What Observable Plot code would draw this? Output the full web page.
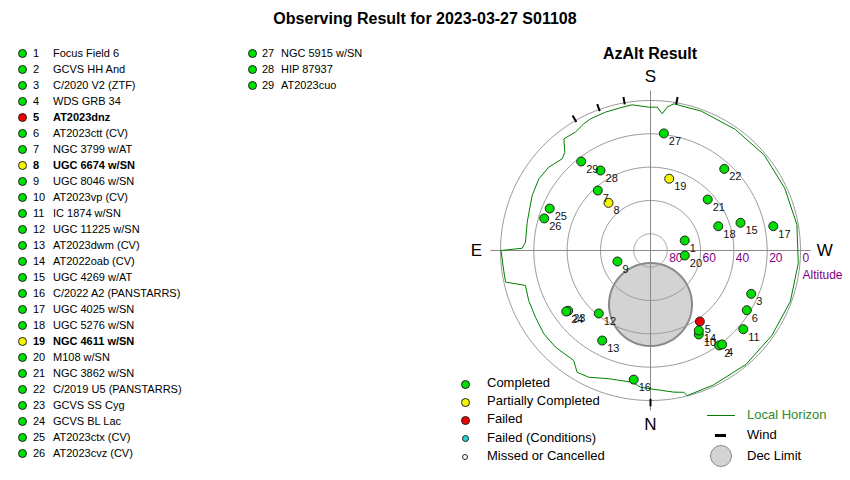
<!DOCTYPE html>
<html><head><meta charset="utf-8">
<script src="https://cdn.jsdelivr.net/npm/d3@7"></script>
<script src="https://cdn.jsdelivr.net/npm/@observablehq/plot@0.6"></script>
<style>
body{margin:0;background:#fff;font-family:"Liberation Sans",Arial,sans-serif;color:#000}
#wrap{position:relative;width:850px;height:480px;overflow:hidden}
.abs{position:absolute;white-space:nowrap}
.sym{position:absolute;border-radius:50%;box-sizing:border-box}
#chart{position:absolute;left:440px;top:0}
</style></head><body>
<div id="wrap">
<div id="chart"></div>
<div class="abs" style="left:0;top:9px;width:850px;text-align:center;font-weight:bold;font-size:16px;line-height:20px">Observing Result for 2023-03-27 S01108</div>
<div class="abs" style="left:550px;top:45px;width:200px;text-align:center;font-weight:bold;font-size:16px;line-height:18px">AzAlt Result</div>
<div id="list"></div>
<div id="legend"></div>
</div>
<script>
// ---- data ----
const ids = [1,2,3,4,5,6,7,8,9,10,11,12,13,14,15,16,17,18,19,20,21,22,23,24,25,26,27,28,29];
const names = ["Focus Field 6","GCVS HH And","C/2020 V2 (ZTF)","WDS GRB 34","AT2023dnz","AT2023ctt (CV)","NGC 3799 w/AT","UGC 6674 w/SN","UGC 8046 w/SN","AT2023vp (CV)","IC 1874 w/SN","UGC 11225 w/SN","AT2023dwm (CV)","AT2022oab (CV)","UGC 4269 w/AT","C/2022 A2 (PANSTARRS)","UGC 4025 w/SN","UGC 5276 w/SN","NGC 4611 w/SN","M108 w/SN","NGC 3862 w/SN","C/2019 U5 (PANSTARRS)","GCVS SS Cyg","GCVS BL Lac","AT2023ctx (CV)","AT2023cvz (CV)","NGC 5915 w/SN","HIP 87937","AT2023cuo"];
const status = ["C","C","C","C","F","C","C","P","C","C","C","C","C","C","C","C","C","C","P","C","C","C","C","C","C","C","C","C","C"];
const altitude = [68.6,19.7,24.2,19.1,38.1,22.0,42.1,51.9,69.1,31.9,17.0,41.1,28.7,33.9,33.5,11.9,14.9,46.8,45.5,69.2,44.0,24.0,28.8,27.6,24.5,23.4,19.3,33.4,22.3];
const azimuth = [253.7,324.1,293.3,322.7,325.2,301.8,138.7,138.6,71.6,330.1,310.3,39.4,28.2,328.9,252.9,7.4,258.8,250.3,194.6,278.3,228.3,222.1,53.8,54.1,112.6,106.8,186.5,148.0,142.1];
const horizonAz  = [0,4.2,7.9,18,26,31.1,34.9,44.5,52,59.9,67.7,74.4,77.7,82.2,90,91,93.8,102.9,114.9,122.7,129.3,136.1,138.9,142.2,147.6,152.2,155.5,162,168.8,172.8,179.3,182.7,184.9,186.6,189,200,215,230,245,260,275,290,305,320,335,345.8,346.8,350.7,360];
const horizonAlt = [7.0,7.8,10.2,9.1,5.4,4.7,9.5,8.7,8.8,10.2,11.0,12.1,1.0,1.1,0.3,13.0,14.8,14.1,11.7,10.4,11.1,13.6,11.8,5.2,5.9,4.1,3.2,2.7,2.4,1.9,4.0,3.9,7.7,3.4,0.9,1.0,1.3,0.9,1.2,0.8,1.0,0.7,1.1,0.8,0.9,0.2,2.6,3.9,7.0];
const windAz = [0,150,160,170,190];
const ringAlt = [0,20,40,60,80];
const decLimitAlt = 57.6, decLimitAz = 0, decLimitRadius = 24.9;
const compass = ["N","E","S","W"];
const compassAz = [0,90,180,270];
const statusLabels = ["Completed","Partially Completed","Failed","Failed (Conditions)","Missed or Cancelled"];
const statusColors = {C:"#00dd00",P:"#f5f500",F:"#ee0000"};

// ---- projection (S up, E left) ----
const rad = Math.PI/180;
const proj = (a, z) => { const zd = 90 - a; return [-zd*Math.sin(z*rad), zd*Math.cos(z*rad)]; };

const targets = ids.map((id,i)=>{const [x,y]=proj(altitude[i],azimuth[i]);return {id:String(id),st:status[i],x,y};});
const horizon = horizonAz.map((z,i)=>{const [x,y]=proj(horizonAlt[i],z);return {x,y};});
const rings = ringAlt.flatMap(a=>d3.range(0,361,2).map(t=>{const [x,y]=proj(a,t);return {ring:a,x,y};}));
const [dcx,dcy] = proj(decLimitAlt,decLimitAz);
const decCircle = d3.range(0,361,3).map(t=>({x:dcx+decLimitRadius*Math.cos(t*rad),y:dcy+decLimitRadius*Math.sin(t*rad)}));
const wind = windAz.map(z=>{const [x1,y1]=proj(1,z);const [x2,y2]=proj(-3.5,z);return {x1,y1,x2,y2};});
const comp = compass.map((c,i)=>{const [x,y]=proj(-14.5,compassAz[i]);return {c,x,y};});
const ringLabels = ringAlt.map(a=>({t:String(a),x:90-a,y:0}));
const axisExt = 96;

const chart = Plot.plot({
  width:410, height:480,
  style:{fontFamily:"Liberation Sans, Arial, sans-serif",background:"transparent"},
  x:{domain:[-90,90],range:[60,360],axis:null},
  y:{domain:[-90,90],range:[100,400],axis:null},
  marks:[
    Plot.line(decCircle,{x:"x",y:"y",fill:"#d3d3d3",stroke:"#8a8a8a",strokeWidth:2}),
    Plot.line(rings,{x:"x",y:"y",z:"ring",stroke:"#9a9a9a",strokeWidth:1}),
    Plot.link([{x1:0,x2:0,y1:-axisExt,y2:axisExt},{x1:-axisExt,x2:axisExt,y1:0,y2:0}],{x1:"x1",y1:"y1",x2:"x2",y2:"y2",stroke:"#8a8a8a",strokeWidth:1}),
    Plot.line(horizon,{x:"x",y:"y",stroke:"#008000",strokeWidth:1}),
    Plot.link(wind,{x1:"x1",y1:"y1",x2:"x2",y2:"y2",stroke:"#000",strokeWidth:2}),
    Plot.text(ringLabels,{x:"x",y:"y",text:"t",dx:2,dy:8,textAnchor:"start",fill:"#800080",fontSize:12}),
    Plot.text([{x:90,y:0}],{x:"x",y:"y",text:()=>"Altitude",dx:2,dy:25,textAnchor:"start",fill:"#800080",fontSize:12}),
    Plot.text(comp,{x:"x",y:"y",text:"c",fontSize:17,fill:"#000"}),
    Plot.dot(targets,{x:"x",y:"y",r:4.5,fill:d=>statusColors[d.st],stroke:"#222",strokeWidth:1}),
    Plot.text(targets,{x:"x",y:"y",text:"id",dx:5,dy:8,textAnchor:"start",fill:"#111",fontSize:11})
  ]
});
document.getElementById("chart").appendChild(chart);

// ---- target list ----
const list = document.getElementById("list");
ids.forEach((id,i)=>{
  const col = i<26?0:1, row = i%26;
  const yc = 53 + 16*row;
  const dx = col===0?22:252, nx = col===0?33:262, tx = col===0?53:281;
  const bold = status[i]!=="C" ? "font-weight:bold;" : "";
  list.insertAdjacentHTML("beforeend",
    `<div class="sym" style="left:${dx-4.5}px;top:${yc-4.5}px;width:9px;height:9px;background:${statusColors[status[i]]};border:1px solid #222"></div>`+
    `<div class="abs" style="left:${nx}px;top:${yc-8}px;font-size:11px;line-height:16px;${bold}">${id}</div>`+
    `<div class="abs" style="left:${tx}px;top:${yc-8}px;font-size:11px;line-height:16px;${bold}">${names[i]}</div>`);
});

// ---- legend ----
const lg = document.getElementById("legend");
const symStyles = [
  "width:9px;height:9px;background:#00dd00;border:1px solid #222",
  "width:9px;height:9px;background:#f5f500;border:1px solid #222",
  "width:9px;height:9px;background:#ee0000;border:1px solid #222",
  "width:7px;height:7px;background:#22d4d4;border:1px solid #222",
  "width:6px;height:6px;background:#fff;border:1px solid #222"
];
const symSize = [9,9,9,7,6];
statusLabels.forEach((t,i)=>{
  const yc = 383 + 18.2*i;
  lg.insertAdjacentHTML("beforeend",
    `<div class="sym" style="left:${465-symSize[i]/2}px;top:${yc-symSize[i]/2+1}px;${symStyles[i]}"></div>`+
    `<div class="abs" style="left:487px;top:${yc-8}px;font-size:13px;line-height:16px">${t}</div>`);
});
lg.insertAdjacentHTML("beforeend",
  `<div class="abs" style="left:707px;top:414.5px;width:28px;height:1px;background:#008000"></div>`+
  `<div class="abs" style="left:747px;top:407px;font-size:13px;line-height:16px;color:#2e8b2e">Local Horizon</div>`+
  `<div class="abs" style="left:715px;top:434px;width:11px;height:3px;background:#000"></div>`+
  `<div class="abs" style="left:747px;top:427px;font-size:13px;line-height:16px">Wind</div>`+
  `<div class="sym" style="left:710px;top:445px;width:22px;height:22px;background:#d3d3d3;border:1.5px solid #8a8a8a"></div>`+
  `<div class="abs" style="left:747px;top:448px;font-size:13px;line-height:16px">Dec Limit</div>`);
</script>
</body></html>
